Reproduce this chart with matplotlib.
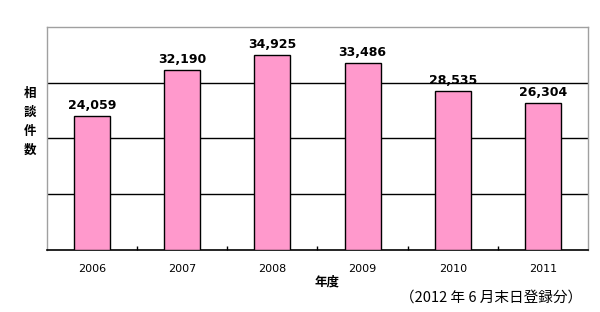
import matplotlib
matplotlib.use("Agg")
import matplotlib.pyplot as plt
import numpy as np
from matplotlib.ticker import FixedLocator, NullFormatter

plt.rcParams["font.family"] = ["Noto Sans CJK JP", "DejaVu Sans"]

years = ["2006", "2007", "2008", "2009", "2010", "2011"]
counts = [24059, 32190, 34925, 33486, 28535, 26304]

fig = plt.figure(figsize=(6.0, 3.12), dpi=100)
ax = fig.add_axes([0.0783, 0.199, 0.9017, 0.715])

x = np.arange(len(years))
ax.bar(x, counts, width=0.4, color="#ff99cc", edgecolor="black", linewidth=1.0, zorder=3)

for xi, v in zip(x, counts):
    ax.text(xi, v + 700, f"{v:,}", ha="center", va="bottom", fontsize=9,
            fontweight="bold", family="DejaVu Sans", zorder=4)

ax.set_xlim(-0.5, len(years) - 0.5)
ax.set_ylim(0, 40000)
ax.set_yticks([10000, 20000, 30000])
ax.yaxis.grid(True, color="black", linewidth=1.0, zorder=0)
ax.tick_params(axis="y", length=0, labelleft=False)

# ticks between categories, labels at bar centres
ax.xaxis.set_major_locator(FixedLocator(np.arange(0.5, len(years) - 1, 1.0)))
ax.xaxis.set_major_formatter(NullFormatter())
ax.xaxis.set_minor_locator(FixedLocator(x))
ax.set_xticklabels(years, minor=True)
ax.tick_params(axis="x", which="major", direction="in", length=3, width=1, color="black")
ax.tick_params(axis="x", which="minor", length=0, pad=10, labelsize=8)
for lbl in ax.get_xticklabels(minor=True):
    lbl.set_family("DejaVu Sans")

for side in ("left", "top", "right"):
    ax.spines[side].set_color("#a0a0a0")
    ax.spines[side].set_linewidth(1.0)
ax.spines["bottom"].set_color("black")
ax.spines["bottom"].set_linewidth(1.2)

fig.text(0.05, 0.61, "相\n談\n件\n数", ha="center", va="center", fontsize=9,
         fontweight="bold", linespacing=1.6)
fig.text(0.545, 0.095, "年度", ha="center", va="center", fontsize=9, fontweight="bold")
fig.text(0.97, 0.045, "（2012 年 6 月末日登録分）", ha="right", va="center", fontsize=10.5)

fig.savefig("out.png", dpi=100)
